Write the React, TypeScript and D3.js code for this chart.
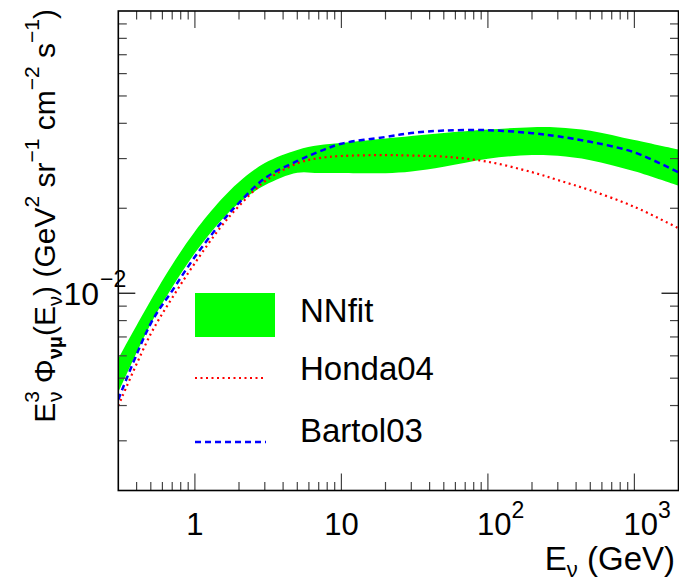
import React from 'react';
import * as d3 from 'd3';

// ---- data ----
const energies = [0.3, 0.5, 0.7, 1, 1.5, 2, 3, 5, 7, 10, 20, 30, 50, 100, 200, 300, 500, 1000, 2000];
const nnfitUpper = [0.00587, 0.00945, 0.01262, 0.01654, 0.02138, 0.0248, 0.02894, 0.0322, 0.03344, 0.03407, 0.03532, 0.03606, 0.03695, 0.038, 0.03876, 0.03866, 0.03765, 0.03488, 0.03228];
const nnfitLower = [0.00444, 0.00779, 0.0105, 0.01388, 0.01804, 0.0209, 0.02413, 0.02673, 0.02667, 0.02667, 0.02662, 0.027, 0.02808, 0.02998, 0.03088, 0.03068, 0.02961, 0.02704, 0.02403];
const honda04 = [0.00399, 0.00718, 0.00963, 0.01279, 0.01715, 0.02037, 0.02491, 0.02885, 0.0301, 0.03063, 0.03086, 0.03074, 0.03048, 0.02923, 0.02685, 0.02518, 0.02316, 0.02023, 0.01699];
const bartol03 = [0.0042, 0.00782, 0.01021, 0.01346, 0.01771, 0.0209, 0.02554, 0.02942, 0.0317, 0.03388, 0.03578, 0.03695, 0.03769, 0.03781, 0.03692, 0.03596, 0.0344, 0.03155, 0.0268];

const xDomain = [0.3, 2000];
const yDomain = [0.002, 0.1];
const xMajorTicks = [1, 10, 100, 1000];
const xTickBase = ['1', '10', '10', '10'];
const xTickExp = ['', '', '2', '3'];
const yMajorTicks = [0.01];
const legendLabels = ['NNfit', 'Honda04', 'Bartol03'];

const W = 679;
const H = 581;
const L = 118.3, R = 678.5, T = 11, B = 490.5;
const FONT = '"Liberation Sans", Arial, Helvetica, sans-serif';

export default function App() {
  const x = d3.scaleLog().domain(xDomain).range([L, R]);
  const y = d3.scaleLog().domain(yDomain).range([B, T]);

  const pts = energies.map((e, i) => ({ e, u: nnfitUpper[i], l: nnfitLower[i], h: honda04[i], b: bartol03[i] }));
  const curve = d3.curveCatmullRom.alpha(0.5);
  const area = d3.area<any>().x(d => x(d.e)).y0(d => y(d.l)).y1(d => y(d.u)).curve(curve);
  const lineH = d3.line<any>().x(d => x(d.e)).y(d => y(d.h)).curve(curve);
  const lineB = d3.line<any>().x(d => x(d.e)).y(d => y(d.b)).curve(curve);

  // minor ticks
  const xMinor: number[] = [];
  for (let dec = -1; dec <= 3; dec++) {
    for (let k = 2; k <= 9; k++) {
      const v = k * Math.pow(10, dec);
      if (v > xDomain[0] * 1.0001 && v < xDomain[1] * 0.9999) xMinor.push(v);
    }
  }
  const yMinor: number[] = [];
  for (let dec = -3; dec <= -2; dec++) {
    for (let k = 2; k <= 9; k++) {
      const v = k * Math.pow(10, dec);
      if (v > yDomain[0] * 1.0001 && v < yDomain[1] * 0.9999) yMinor.push(v);
    }
  }
  const tickColor = '#444';
  const majLen = 17, minLen = 8.5;

  return (
    <svg width={W} height={H} style={{ position: 'absolute', left: 0, top: 0, background: '#fff' }} fontFamily={FONT}>
      <defs>
        <clipPath id="plotClip">
          <rect x={L} y={T} width={R - L} height={B - T} />
        </clipPath>
      </defs>
      <rect x={0} y={0} width={W} height={H} fill="#fff" />
      <g clipPath="url(#plotClip)">
        <path d={area(pts) || ''} fill="#00ff00" stroke="none" />
        <path d={lineH(pts) || ''} fill="none" stroke="#ff0000" strokeWidth={2.2} strokeDasharray="2,3.5" />
        <path d={lineB(pts) || ''} fill="none" stroke="#0000ff" strokeWidth={2.5} strokeDasharray="6,4" />
      </g>

      {/* ticks */}
      <g stroke={tickColor} strokeWidth={1.2}>
        {xMajorTicks.map(t => (
          <g key={'xm' + t}>
            <line x1={x(t)} x2={x(t)} y1={B} y2={B - majLen} />
            <line x1={x(t)} x2={x(t)} y1={T} y2={T + majLen} />
          </g>
        ))}
        {xMinor.map(t => (
          <g key={'xn' + t}>
            <line x1={x(t)} x2={x(t)} y1={B} y2={B - minLen} />
            <line x1={x(t)} x2={x(t)} y1={T} y2={T + minLen} />
          </g>
        ))}
        {yMajorTicks.map(t => (
          <g key={'ym' + t}>
            <line x1={L} x2={L + majLen} y1={y(t)} y2={y(t)} stroke="#000" />
            <line x1={R} x2={R - majLen} y1={y(t)} y2={y(t)} stroke="#000" />
          </g>
        ))}
        {yMinor.map(t => (
          <g key={'yn' + t}>
            <line x1={L} x2={L + minLen} y1={y(t)} y2={y(t)} />
            <line x1={R} x2={R - minLen} y1={y(t)} y2={y(t)} />
          </g>
        ))}
      </g>

      {/* frame */}
      <rect x={L} y={T} width={R - L} height={B - T} fill="none" stroke="#000" strokeWidth={1.6} />

      {/* x tick labels */}
      {xMajorTicks.map((t, i) => (
        xTickExp[i] ? (
          <text key={'xl' + t} x={x(t) - 11} y={535} fontSize={31} textAnchor="start" fill="#000">
            {xTickBase[i]}
            <tspan dy={-17} fontSize={23}>{xTickExp[i]}</tspan>
          </text>
        ) : (
          <text key={'xl' + t} x={x(t)} y={535} fontSize={31} textAnchor="middle" fill="#000">{xTickBase[i]}</text>
        )
      ))}

      {/* y tick label */}
      {yMajorTicks.map(t => (
        <text key={'yl' + t} x={99} y={y(t) + 12} fontSize={32} textAnchor="end" fill="#000">
          10
          <tspan x={100} dy={-18} textAnchor="start" fontSize={23}>{'\u22122'}</tspan>
        </text>
      ))}

      {/* x title */}
      <text x={675} y={570} fontSize={33} textAnchor="end" fill="#000">
        E<tspan dy={7} fontSize={22}>{'\u03bd'}</tspan>
        <tspan dy={-7}>{' (GeV)'}</tspan>
      </text>

      {/* y title */}
      <g transform={`translate(55, 9) rotate(-90)`}>
        <text x={0} y={0} fontSize={30} textAnchor="end" fill="#000">
          E
          <tspan dy={-16} fontSize={21}>3</tspan>
          <tspan dx={-11} dy={23} fontSize={21}>{'\u03bd'}</tspan>
          <tspan dy={-7}>{' \u03a6'}</tspan>
          <tspan dy={7} fontSize={20} fontWeight="bold">{'\u03bd\u03bc'}</tspan>
          <tspan dy={-7}>(E</tspan>
          <tspan dy={7} fontSize={20}>{'\u03bd'}</tspan>
          <tspan dy={-7}>{')  (GeV'}</tspan>
          <tspan dy={-16} fontSize={21}>2</tspan>
          <tspan dy={16}>{' sr'}</tspan>
          <tspan dy={-16} fontSize={21}>{'\u22121'}</tspan>
          <tspan dy={16}>{' cm'}</tspan>
          <tspan dy={-16} fontSize={21}>{'\u22122'}</tspan>
          <tspan dy={16}>{' s'}</tspan>
          <tspan dy={-16} fontSize={21}>{'\u22121'}</tspan>
          <tspan dy={16}>{')'}</tspan>
        </text>
      </g>

      {/* legend */}
      <rect x={195} y={293} width={80} height={44} fill="#00ff00" />
      <line x1={195} x2={266} y1={378} y2={378} stroke="#ff0000" strokeWidth={2.2} strokeDasharray="2,3.5" />
      <line x1={195} x2={266} y1={442} y2={442} stroke="#0000ff" strokeWidth={2.5} strokeDasharray="6,4" />
      <text x={300} y={322} fontSize={33} fill="#000">{legendLabels[0]}</text>
      <text x={300} y={380} fontSize={33} fill="#000">{legendLabels[1]}</text>
      <text x={300} y={442} fontSize={33} fill="#000">{legendLabels[2]}</text>
    </svg>
  );
}
